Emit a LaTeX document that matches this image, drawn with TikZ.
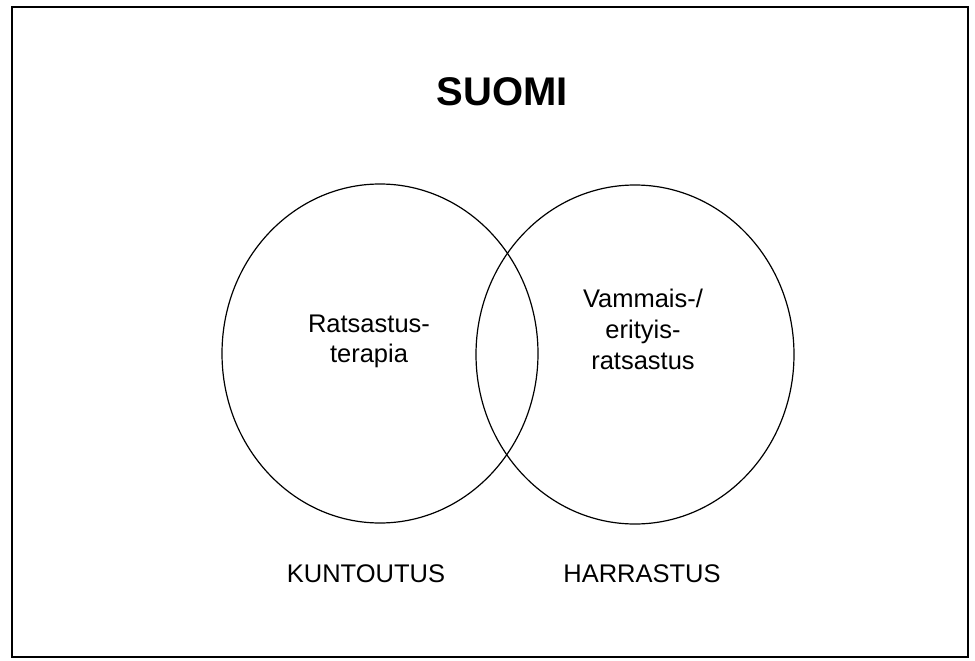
\documentclass[tikz,border=0pt]{standalone}
\usepackage{fontspec}
\setmainfont{Liberation Sans}
\begin{document}
\begin{tikzpicture}[x=1pt,y=-1pt,
  ring/.style={draw=black,line width=1.2pt},
  inner/.style={inner sep=0pt,align=center,font=\fontsize{25.5}{30}\selectfont},
  label/.style={inner sep=0pt,anchor=base,font=\fontsize{25.5}{30}\selectfont},
  heading/.style={inner sep=0pt,anchor=base,font=\fontsize{40}{48}\selectfont\bfseries}]
\useasboundingbox (0,0) rectangle (975,661);
\draw[line width=1.6pt] (12,7) rectangle (968,657);
\node[heading] (title) at (502,106) {SUOMI};
\draw[ring] (380,353.5) ellipse [x radius=158, y radius=169.5];
\draw[ring] (635,354.5) ellipse [x radius=159, y radius=169.5];
\node[inner] (left) at (369,341) {Ratsastus-\\terapia};
\node[inner,font=\fontsize{25.5}{31}\selectfont] (right) at (643,329) {Vammais-/\\erityis-\\ratsastus};
\node[label] (kunt) at (366,582) {KUNTOUTUS};
\node[label] (harr) at (642,582) {HARRASTUS};
\end{tikzpicture}
\end{document}
